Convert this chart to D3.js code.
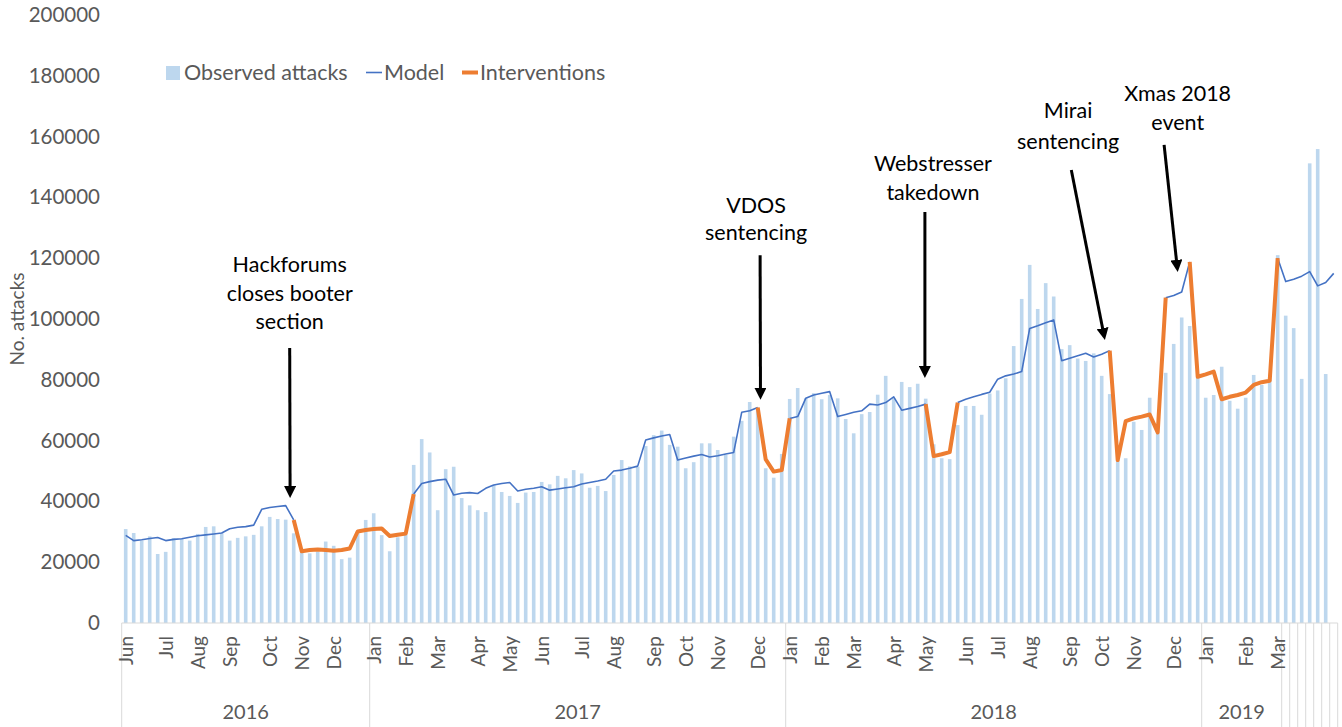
<!DOCTYPE html>
<html>
<head>
<meta charset="utf-8">
<script src="https://cdn.jsdelivr.net/npm/d3@7"></script>
<style>
  body { margin: 0; background: #fff; }
  text { font-family: Lato, sans-serif; }
</style>
</head>
<body>
<div id="container"></div>
<script>
// weekly attack counts, Jun 2016 - Apr 2019 (152 weeks)
const observed = [
  30900, 29600, 27100, 28500, 22700, 23400, 27900, 27600, 27100, 29300,
  31600, 31800, 29500, 27100, 28000, 28500, 29000, 31800, 34900, 34200,
  34000, 29500, 23700, 22900, 23500, 26800, 25400, 21000, 21500, 30000,
  33900, 36100, 28900, 23600, 28200, 29000, 52000, 60500, 56100, 37100,
  50600, 51400, 41100, 38700, 37100, 36500, 45400, 43100, 41800, 39500,
  42900, 43100, 46400, 45600, 48400, 47600, 50300, 49200, 44500, 45100,
  43400, 48700, 53600, 51500, 51400, 58200, 61800, 63300, 58600, 58000,
  50900, 52900, 59100, 59100, 56900, 55300, 61300, 66500, 72700, 70600,
  50900, 47800, 55600, 73700, 77300, 73900, 75600, 73600, 75000, 73900,
  67100, 62400, 68700, 69400, 75100, 81300, 73900, 79300, 77600, 78700,
  73800, 58800, 54200, 53900, 65100, 71400, 71400, 68500, 75500, 76500,
  80500, 91100, 106600, 117800, 103300, 111800, 107400, 90100, 91400, 87000,
  86200, 88700, 81300, 75300, 53600, 54200, 66200, 63500, 74100, 62500,
  82300, 91800, 100500, 97700, 81000, 74100, 75000, 84300, 73100, 70500,
  74100, 81600, 78300, 79900, 121000, 101100, 97000, 80300, 151200, 155900,
  81900, null
];
const N = null;
const model = [
  28800, 27100, 27400, 27800, 28100, 27100, 27500, 27700, 28200, 28700,
  29000, 29300, 29600, 31000, 31500, 31700, 32200, 37400, 38000, 38300,
  38600, 33900, N, N, N, N, N, N, N, N,
  N, N, N, N, N, N, 42400, 45900, 46500, 47000,
  47300, 42100, 42700, 42900, 42600, 44300, 45400, 45900, 46200, 43400,
  44000, 44300, 44800, 43700, 44100, 44500, 44800, 45700, 46200, 46700,
  47300, 50000, 50300, 50900, 51600, 60200, 60900, 61500, 62000, 53600,
  54300, 54900, 55400, 54600, 55000, 55600, 56100, 69300, 69800, 70900,
  N, N, N, 67300, 67900, 73900, 75000, 75600, 76100, 67900,
  68600, 69300, 69800, 72000, 71700, 72500, 74400, 70000, 70600, 71200,
  72000, N, N, N, 72500, 73600, 74400, 75200, 75900, 80200,
  81300, 81900, 82700, 96900, 97800, 98800, 99700, 86300, 87100, 87900,
  88700, 87500, 88400, 89600, N, N, N, N, N, N,
  107000, 107700, 108900, 118800, N, N, N, N, N, N,
  N, N, N, N, 120000, 112300, 113100, 114100, 115600, 110900,
  112000, 115000
];
const interventions = [
  N, N, N, N, N, N, N, N, N, N,
  N, N, N, N, N, N, N, N, N, N,
  N, 33900, 23600, 24000, 24200, 24000, 23800, 24000, 24500, 30100,
  30600, 30900, 31100, 28600, 29000, 29400, 42400, N, N, N,
  N, N, N, N, N, N, N, N, N, N,
  N, N, N, N, N, N, N, N, N, N,
  N, N, N, N, N, N, N, N, N, N,
  N, N, N, N, N, N, N, N, N, 70900,
  53800, 49800, 50300, 67300, N, N, N, N, N, N,
  N, N, N, N, N, N, N, N, N, N,
  72000, 54900, 55500, 56200, 72500, N, N, N, N, N,
  N, N, N, N, N, N, N, N, N, N,
  N, N, N, 89600, 53600, 66400, 67300, 67900, 68600, 62700,
  107000, N, N, 118800, 81000, 81800, 82700, 73600, 74400, 75000,
  75800, 78300, 79200, 79700, 120000, N, N, N, N, N,
  N, N
];

// category axis: month label at first week of the month, year groups
const monthIdx = [0, 5, 9, 13, 18, 22, 26, 31, 35, 39, 44, 48, 52, 57, 61, 66, 70, 74, 79,
  83, 87, 91, 96, 100, 105, 109, 113, 118, 122, 126, 131, 135, 140, 144];
const monthNames = ["Jun", "Jul", "Aug", "Sep", "Oct", "Nov", "Dec",
  "Jan", "Feb", "Mar", "Apr", "May", "Jun", "Jul", "Aug", "Sep", "Oct", "Nov", "Dec",
  "Jan", "Feb", "Mar", "Apr", "May", "Jun", "Jul", "Aug", "Sep", "Oct", "Nov", "Dec",
  "Jan", "Feb", "Mar"];
const yearNames = ["2016", "2017", "2018", "2019", "", "", "", "", "", "", ""];
const yearStart = [0, 31, 83, 135, 145, 146, 147, 148, 149, 150, 151];

const yTicks = d3.range(0, 200001, 20000);

// annotations: week position, value of first text line, arrow from/to (week, value)
const notes = [
  { lines: ["Hackforums", "closes booter", "section"], w: 21.0, v: 117800, gap: 28.5, from: [21.0, 90500], to: [21.05, 41100] },
  { lines: ["VDOS", "sentencing"], w: 79.3, v: 137500, gap: 27, from: [79.8, 121000], to: [79.85, 73400] },
  { lines: ["Webstresser", "takedown"], w: 101.4, v: 151300, gap: 29, from: [100.4, 135200], to: [100.4, 80600] },
  { lines: ["Mirai", "sentencing"], w: 118.3, v: 168700, gap: 31, from: [118.7, 149000], to: [122.9, 93100] },
  { lines: ["Xmas 2018", "event"], w: 132.0, v: 174300, gap: 29, from: [130.3, 157300], to: [132.0, 115500] }
];

const W = 1342, H = 727;
const padL = 121.7, padR = 1337.7, padT = 15, base = 623;

const svg = d3.select("#container")
  .append("svg")
  .attr("width", W)
  .attr("height", H);

const weeks = d3.range(observed.length);
const x = d3.scaleBand()
  .domain(weeks)
  .range([padL, padR])
  .paddingInner(0.55)
  .paddingOuter(0.275);
const xw = d3.scaleLinear().domain([0, weeks.length]).range([padL, padR]);
const xc = i => xw(i + 0.5);
const y = d3.scaleLinear().domain([0, 200000]).range([base, padT]);

// y axis labels
const yAxis = d3.axisLeft(y).tickValues(yTicks).tickFormat(d3.format("d")).tickSize(0).tickPadding(0);
svg.append("g")
  .attr("transform", "translate(100,0)")
  .call(yAxis)
  .call(g => g.select(".domain").remove())
  .selectAll("text")
  .attr("font-family", "Lato, sans-serif")
  .attr("font-size", 20.5)
  .attr("fill", "#595959");

svg.append("text")
  .attr("transform", `translate(24,${y(100000)}) rotate(-90)`)
  .attr("text-anchor", "middle")
  .attr("font-size", 19)
  .attr("fill", "#595959")
  .text("No. attacks");

// bars
svg.append("g")
  .selectAll("rect")
  .data(weeks.filter(i => observed[i] != null))
  .join("rect")
  .attr("x", i => x(i))
  .attr("width", x.bandwidth())
  .attr("y", i => y(observed[i]))
  .attr("height", i => base - y(observed[i]))
  .attr("fill", "#bdd7ee");

// x axis line and category levels
svg.append("line")
  .attr("x1", padL).attr("x2", padR)
  .attr("y1", base).attr("y2", base)
  .attr("stroke", "#d9d9d9");

const seps = yearStart.concat([weeks.length]);
svg.append("g")
  .selectAll("line")
  .data(seps)
  .join("line")
  .attr("x1", d => xw(d)).attr("x2", d => xw(d))
  .attr("y1", base).attr("y2", H)
  .attr("stroke", "#d9d9d9");

svg.append("g")
  .selectAll("text")
  .data(monthIdx)
  .join("text")
  .attr("transform", d => `translate(${xc(d)},636) rotate(-90)`)
  .attr("text-anchor", "end")
  .attr("dy", "0.36em")
  .attr("font-size", 19)
  .attr("fill", "#595959")
  .text((d, i) => monthNames[i]);

svg.append("g")
  .selectAll("text")
  .data(yearNames.map((n, i) => ({ n: n, a: yearStart[i], b: seps[i + 1] })))
  .join("text")
  .attr("x", d => xw((d.a + d.b) / 2))
  .attr("y", 719)
  .attr("text-anchor", "middle")
  .attr("font-size", 20)
  .attr("fill", "#595959")
  .text(d => d.n);

// lines
const line = d3.line()
  .defined(d => d != null)
  .x((d, i) => xc(i))
  .y(d => y(d));

svg.append("path")
  .datum(model)
  .attr("d", line)
  .attr("fill", "none")
  .attr("stroke", "#4472c4")
  .attr("stroke-width", 1.6)
  .attr("stroke-linejoin", "round");

svg.append("path")
  .datum(interventions)
  .attr("d", line)
  .attr("fill", "none")
  .attr("stroke", "#ed7d31")
  .attr("stroke-width", 4)
  .attr("stroke-linejoin", "round");

// legend
const legend = svg.append("g").attr("font-size", 21.5).attr("fill", "#595959");
legend.append("rect").attr("x", 166).attr("y", 66).attr("width", 14).attr("height", 14).attr("fill", "#bdd7ee");
legend.append("text").attr("x", 184).attr("y", 80).text("Observed attacks");
legend.append("line").attr("x1", 366).attr("x2", 382).attr("y1", 72.5).attr("y2", 72.5)
  .attr("stroke", "#4472c4").attr("stroke-width", 1.6);
legend.append("text").attr("x", 384).attr("y", 80).text("Model");
legend.append("line").attr("x1", 462).attr("x2", 478).attr("y1", 72.5).attr("y2", 72.5)
  .attr("stroke", "#ed7d31").attr("stroke-width", 4);
legend.append("text").attr("x", 480).attr("y", 80).text("Interventions");

// annotations
svg.append("defs").append("marker")
  .attr("id", "head")
  .attr("viewBox", "0 0 10 10")
  .attr("refX", 2).attr("refY", 5)
  .attr("markerWidth", 4).attr("markerHeight", 4)
  .attr("orient", "auto")
  .append("path")
  .attr("d", "M0,0 L10,5 L0,10 z")
  .attr("fill", "#000");

const ann = svg.append("g");
notes.forEach(n => {
  const t = ann.append("text")
    .attr("x", xw(n.w))
    .attr("y", y(n.v))
    .attr("text-anchor", "middle")
    .attr("font-size", 21.5)
    .attr("fill", "#000");
  n.lines.forEach((l, k) => {
    t.append("tspan").attr("x", xw(n.w)).attr("dy", k == 0 ? "0.35em" : n.gap).text(l);
  });
  // stop the shaft short so the head tip lands on the target
  const x1 = xw(n.from[0]), y1 = y(n.from[1]);
  const x2 = xw(n.to[0]), y2 = y(n.to[1]);
  const len = Math.hypot(x2 - x1, y2 - y1);
  const k = (len - 9.6) / len;
  ann.append("line")
    .attr("x1", x1).attr("y1", y1)
    .attr("x2", x1 + (x2 - x1) * k).attr("y2", y1 + (y2 - y1) * k)
    .attr("stroke", "#000")
    .attr("stroke-width", 3)
    .attr("marker-end", "url(#head)");
});
</script>
</body>
</html>
